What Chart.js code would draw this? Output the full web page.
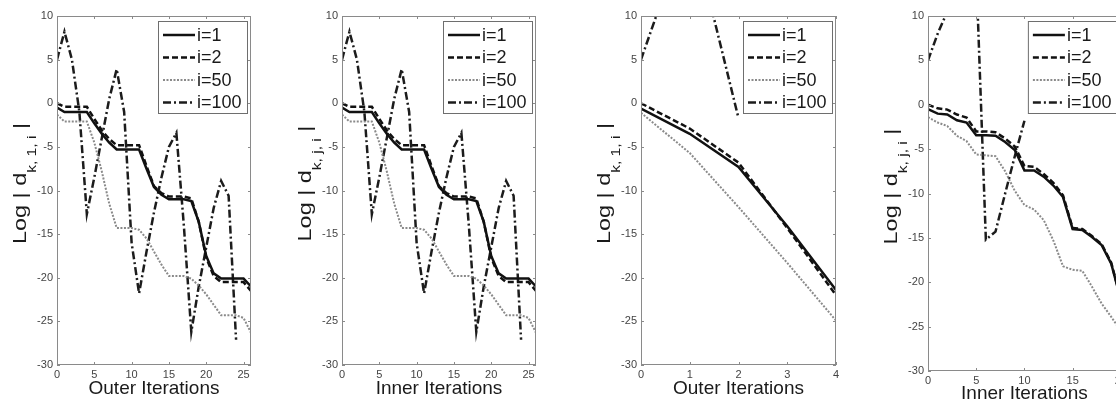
<!DOCTYPE html>
<html>
<head>
<meta charset="utf-8">
<script src="https://cdn.jsdelivr.net/npm/chart.js@4.4.1/dist/chart.umd.min.js"></script>
<style>
html,body{margin:0;padding:0;background:#fff;overflow:hidden;width:1116px;height:407px;}
canvas{position:absolute;top:0;}
</style>
</head>
<body>
<canvas id="p1" width="260" height="407" style="left:0px"></canvas>
<canvas id="p2" width="275" height="407" style="left:270px"></canvas>
<canvas id="p3" width="295" height="407" style="left:550px"></canvas>
<canvas id="p4" width="300" height="407" style="left:830px"></canvas>
<script>
const seriesNames = ["i=1", "i=2", "i=50", "i=100"];

// first two panels (outer / inner iterations, same curves)
const stepI1 = [-0.5,-1,-1,-1,-1,-2.3,-3.5,-4.5,-5.3,-5.3,-5.3,-5.3,-7.5,-9.6,-10.5,-11,-11,-11,-11.2,-13.6,-17.5,-19.5,-20.1,-20.1,-20.1,-20.1,-21];
const stepI2 = [0,-0.4,-0.4,-0.4,-0.4,-1.8,-3.1,-4.1,-4.8,-4.8,-4.8,-4.8,-7.2,-9.5,-10.3,-10.7,-10.7,-10.7,-10.9,-13.6,-17.7,-19.8,-20.5,-20.5,-20.5,-20.5,-21.5];
const stepI50 = [-1.3,-2.1,-2.1,-2.1,-2.1,-4.5,-7.8,-11.5,-14.3,-14.3,-14.3,-14.5,-15.5,-17,-18.5,-19.8,-19.8,-19.8,-20.1,-20.9,-21.9,-23.1,-24.3,-24.3,-24.3,-24.6,-26.3];
const stepI100 = [5,8.2,5,-1,-12.7,-8.5,-4,0.5,3.9,-1,-16,-21.8,-17,-12.5,-8.5,-5,-3.4,-14,-26.2,-21,-16.5,-12,-8.9,-10.6,-27.1];

// third panel (outer iterations)
const outerI1 = [-0.6,-3.5,-7.3,-14.1,-21.4];
const outerI2 = [0,-2.9,-6.8,-14.3,-22.0];
const outerI50 = [-1.1,-5.7,-11.9,-18.3,-24.9];
const outerI100 = [5,21,-1.7];

// fourth panel (inner iterations)
const innerI1 = [-0.5,-1.0,-1.1,-1.75,-2.0,-3.45,-3.45,-3.5,-4.2,-5.1,-7.4,-7.4,-8.1,-9.1,-10.4,-14.0,-14.1,-14.9,-15.8,-17.9,-22];
const innerI2 = [0,-0.4,-0.55,-1.1,-1.45,-3.0,-3.0,-3.1,-3.8,-4.7,-6.9,-7.0,-7.8,-8.8,-10.2,-13.9,-14.0,-14.8,-15.7,-17.8,-21.9];
const innerI50 = [-1.4,-2.0,-2.4,-3.5,-4.1,-5.6,-5.7,-5.8,-7.5,-9.7,-11.3,-11.8,-13.0,-15.3,-18.2,-18.6,-18.7,-20.5,-22.4,-23.9,-25.5];
const innerI100 = [5.0,8.0,10.5,14,15,15,-15.2,-14.3,-10,-5.8,-1.8];

const yTicks = [-30,-25,-20,-15,-10,-5,0,5,10];
const xTicksA = [0,5,10,15,20,25];
const xTicksB = [0,1,2,3,4];
const xTicksC = [0,5,10,15,20];

const FONT = '"Liberation Sans", Arial, sans-serif';

const lineStyles = [
  {borderColor:'#111', borderWidth:2.5, borderDash:[]},
  {borderColor:'#111', borderWidth:2.5, borderDash:[6,3]},
  {borderColor:'#8a8a8a', borderWidth:2, borderDash:[2,1.5]},
  {borderColor:'#1c1c1c', borderWidth:2.5, borderDash:[8,3,2,3]}
];

function drawBox(chart){
  const {ctx, chartArea:a, scales:{x, y}} = chart;
  ctx.save();
  ctx.strokeStyle = '#8a8a8a';
  ctx.lineWidth = 1;
  ctx.strokeRect(a.left+0.5, a.top+0.5, a.right-a.left-1, a.bottom-a.top-1);
  ctx.beginPath();
  const t = 3;
  x.ticks.forEach(tk => {
    const px = Math.round(x.getPixelForValue(tk.value))+0.5;
    ctx.moveTo(px, a.bottom); ctx.lineTo(px, a.bottom-t);
    ctx.moveTo(px, a.top); ctx.lineTo(px, a.top+t);
  });
  y.ticks.forEach(tk => {
    const py = Math.round(y.getPixelForValue(tk.value))+0.5;
    ctx.moveTo(a.left, py); ctx.lineTo(a.left+t, py);
    ctx.moveTo(a.right, py); ctx.lineTo(a.right-t, py);
  });
  ctx.stroke();
  ctx.restore();
}

function drawLegend(chart){
  const {ctx, chartArea:a} = chart;
  const w = 89, h = 92;
  const L = a.right-4-w, T = a.top+5;
  ctx.save();
  ctx.fillStyle = '#fff';
  ctx.fillRect(L, T, w, h);
  ctx.strokeStyle = '#6e6e6e';
  ctx.lineWidth = 1;
  ctx.strokeRect(L+0.5, T+0.5, w, h);
  chart.data.datasets.forEach((ds, i) => {
    const yy = T+14+i*22.5;
    ctx.beginPath();
    ctx.setLineDash(ds.borderDash);
    ctx.strokeStyle = ds.borderColor;
    ctx.lineWidth = ds.borderWidth;
    ctx.moveTo(L+5, yy); ctx.lineTo(L+37, yy);
    ctx.stroke();
    ctx.setLineDash([]);
    ctx.fillStyle = '#1a1a1a';
    ctx.font = '18px '+FONT;
    ctx.textBaseline = 'middle';
    ctx.fillText(ds.label, L+39, yy+1);
  });
  ctx.restore();
}

function drawYTitle(chart, sub){
  const {ctx, chartArea:a} = chart;
  const big = '18px '+FONT, small = '12px '+FONT;
  ctx.save();
  ctx.translate(a.left-31, (a.top+a.bottom)/2-7);
  ctx.rotate(-Math.PI/2);
  ctx.scale(1.3, 1);
  ctx.fillStyle = '#1a1a1a';
  ctx.textBaseline = 'alphabetic';
  ctx.font = big;
  const w1 = ctx.measureText('Log | d').width, w3 = ctx.measureText(' |').width;
  ctx.font = small;
  const w2 = ctx.measureText(sub).width;
  const x0 = -(w1+w2+w3)/2;
  ctx.font = big; ctx.fillText('Log | d', x0, 0);
  ctx.font = small; ctx.fillText(sub, x0+w1, 10);
  ctx.font = big; ctx.fillText(' |', x0+w1+w2, 0);
  ctx.restore();
}

function makePanel(id, series, xMax, xTicks, xTitle, sub, yW, xH, padRight, titlePad){
  const datasets = series.map((vals, i) => Object.assign({
    label: seriesNames[i],
    data: vals.map((v, k) => ({x:k, y:v})),
    pointRadius: 0,
    tension: 0,
    fill: false,
    clip: 0
  }, lineStyles[i]));

  new Chart(document.getElementById(id), {
    type: 'line',
    data: {datasets},
    options: {
      responsive: false,
      animation: false,
      devicePixelRatio: 1,
      layout: {padding: {left:0, top:16, right:padRight, bottom:0}},
      plugins: {legend:{display:false}, tooltip:{enabled:false}},
      scales: {
        x: {
          type: 'linear', min: 0, max: xMax,
          grid: {display:false, drawTicks:false},
          border: {display:false},
          afterBuildTicks: s => { s.ticks = xTicks.map(v => ({value:v})); },
          afterFit: s => { s.height = xH; },
          ticks: {padding:3, color:'#444', font:{size:11, family:FONT}, maxRotation:0},
          title: {display:true, text:xTitle, color:'#1a1a1a', font:{size:19, family:FONT}, padding:{top:0, bottom:titlePad}}
        },
        y: {
          type: 'linear', min: -30, max: 10,
          grid: {display:false, drawTicks:false},
          border: {display:false},
          afterBuildTicks: s => { s.ticks = yTicks.map(v => ({value:v})); },
          afterFit: s => { s.width = yW; },
          ticks: {padding:4, color:'#444', font:{size:11, family:FONT}}
        }
      }
    },
    plugins: [{
      id: 'matlabLook',
      afterDatasetsDraw(chart){ drawBox(chart); },
      afterDraw(chart){ drawLegend(chart); drawYTitle(chart, sub); }
    }]
  });
}

makePanel('p1', [stepI1, stepI2, stepI50, stepI100], 26, xTicksA, 'Outer Iterations', 'k, 1, i', 57, 42, 9, 7);
makePanel('p2', [stepI1, stepI2, stepI50, stepI100], 26, xTicksA, 'Inner Iterations', 'k, j, i', 72, 42, 9, 7);
makePanel('p3', [outerI1, outerI2, outerI50, outerI100], 4, xTicksB, 'Outer Iterations', 'k, 1, i', 91, 42, 9, 7);
makePanel('p4', [innerI1, innerI2, innerI50, innerI100], 20, xTicksC, 'Inner Iterations', 'k, j, i', 98, 36, 8, 2);
</script>
</body>
</html>
